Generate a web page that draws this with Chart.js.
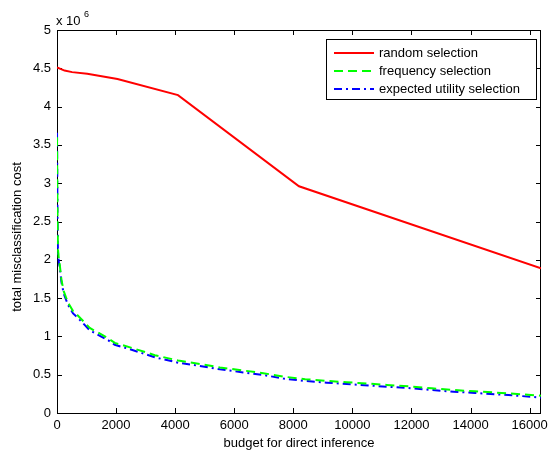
<!DOCTYPE html>
<html>
<head>
<meta charset="utf-8">
<script src="https://cdn.jsdelivr.net/npm/chart.js@4.4.0/dist/chart.umd.min.js"></script>
<style>
  html, body { margin: 0; padding: 0; background: #fff; }
</style>
</head>
<body>
<canvas id="cost-chart" width="548" height="453"></canvas>
<script>
// values are in units of 10^6 (as on the y axis)
const randomBudget = [1, 256, 512, 1024, 2048, 4096, 8192, 16384]
const randomCost = [4.51, 4.47, 4.45, 4.43, 4.36, 4.15, 2.96, 1.89]

const budget = [1, 16, 32, 64, 92, 150, 227, 373, 543, 712, 1108, 1390, 1730, 1956, 2576, 3312, 4100,
    4837, 5515, 6305, 6983, 7661, 8400, 9132, 9810, 10542, 11166, 12013, 12691, 13424, 14159, 14895, 15573, 16384]
const frequencyCost = [3.60, 2.65, 2.14, 2.0, 1.94, 1.74, 1.59, 1.44, 1.33, 1.27, 1.11, 1.05, 0.975, 0.915, 0.845, 0.755, 0.685,
    0.64, 0.595, 0.555, 0.52, 0.475, 0.442, 0.42, 0.402, 0.383, 0.366, 0.345, 0.322, 0.30, 0.283, 0.266, 0.248, 0.225]
const utilityCost = [3.66, 2.6, 2.1, 1.96, 1.91, 1.71, 1.56, 1.41, 1.30, 1.24, 1.08, 1.02, 0.95, 0.89, 0.82, 0.727, 0.657,
    0.614, 0.57, 0.53, 0.496, 0.45, 0.418, 0.396, 0.379, 0.36, 0.343, 0.322, 0.30, 0.278, 0.261, 0.244, 0.226, 0.20]

const seriesNames = ['random selection', 'frequency selection', 'expected utility selection']
const xTicks = [0, 2000, 4000, 6000, 8000, 10000, 12000, 14000, 16000]
const yTicks = [0, 0.5, 1, 1.5, 2, 2.5, 3, 3.5, 4, 4.5, 5]

const FONT = 'Liberation Sans, Arial, sans-serif'

function toPoints(xs, ys) {
    return xs.map((x, i) => ({ x: x, y: ys[i] }))
}

// box around the axes with inward ticks, like matlab
const frameTicks = {
    id: 'frameTicks',
    beforeDatasetsDraw(chart) {
        const { ctx, chartArea: a, scales } = chart
        ctx.save()
        ctx.strokeStyle = '#000'
        ctx.lineWidth = 1
        ctx.strokeRect(a.left + 0.5, a.top + 0.5, a.right - a.left - 1, a.bottom - a.top)
        ctx.beginPath()
        scales.x.ticks.forEach(t => {
            const px = Math.round(scales.x.getPixelForValue(t.value)) + 0.5
            ctx.moveTo(px, a.bottom); ctx.lineTo(px, a.bottom - 5)
            ctx.moveTo(px, a.top); ctx.lineTo(px, a.top + 5)
        })
        scales.y.ticks.forEach(t => {
            const py = Math.round(scales.y.getPixelForValue(t.value)) + 0.5
            ctx.moveTo(a.left, py); ctx.lineTo(a.left + 5, py)
            ctx.moveTo(a.right, py); ctx.lineTo(a.right - 5, py)
        })
        ctx.stroke()
        ctx.fillStyle = '#000'
        // exponent label
        ctx.textBaseline = 'alphabetic'
        ctx.font = '13px ' + FONT
        ctx.fillText('x 10', 56, 25)
        ctx.font = '9px ' + FONT
        ctx.fillText('6', 84, 17)
        // y axis label (matlab puts it a bit below the axis centre)
        ctx.save()
        ctx.translate(17, 237)
        ctx.rotate(-Math.PI / 2)
        ctx.textAlign = 'center'
        ctx.textBaseline = 'middle'
        ctx.font = '13px ' + FONT
        ctx.fillText('total misclassification cost', 0, 0)
        ctx.restore()
        ctx.restore()
    },
    afterDraw(chart) {
        const { ctx } = chart
        const x0 = 326, y0 = 39, w = 210, h = 60
        ctx.save()
        ctx.fillStyle = '#fff'
        ctx.fillRect(x0, y0, w, h)
        ctx.strokeStyle = '#000'
        ctx.lineWidth = 1
        ctx.strokeRect(x0 + 0.5, y0 + 0.5, w, h)
        const rows = [53, 71, 89]
        chart.data.datasets.forEach((ds, i) => {
            ctx.beginPath()
            ctx.strokeStyle = ds.borderColor
            ctx.lineWidth = ds.borderWidth
            ctx.setLineDash(ds.borderDash || [])
            ctx.moveTo(334, rows[i]); ctx.lineTo(374, rows[i])
            ctx.stroke()
            ctx.setLineDash([])
            ctx.fillStyle = '#000'
            ctx.font = '13px ' + FONT
            ctx.textBaseline = 'middle'
            ctx.fillText(ds.label, 379, rows[i])
        })
        ctx.restore()
    }
}

new Chart(document.querySelector('#cost-chart').getContext('2d'), {
    type: 'line',
    data: {
        datasets: [{
            label: seriesNames[0],
            data: toPoints(randomBudget, randomCost),
            borderColor: '#ff0000',
            borderWidth: 2
        }, {
            label: seriesNames[1],
            data: toPoints(budget, frequencyCost),
            borderColor: '#00ff00',
            borderWidth: 2,
            borderDash: [9, 5]
        }, {
            label: seriesNames[2],
            data: toPoints(budget, utilityCost),
            borderColor: '#0000ff',
            borderWidth: 2,
            borderDash: [8, 4, 2, 4]
        }]
    },
    options: {
        responsive: false,
        animation: false,
        devicePixelRatio: 1,
        layout: { padding: { top: 30, right: 7, left: 0, bottom: 0 } },
        elements: { point: { radius: 0 }, line: { tension: 0, fill: false } },
        plugins: { legend: { display: false }, tooltip: { enabled: false } },
        scales: {
            x: {
                type: 'linear',
                min: 0,
                max: 16384,
                afterBuildTicks: s => { s.ticks = xTicks.map(v => ({ value: v })) },
                afterFit: s => {
                    s.height = 40
                    s.paddingLeft = 0
                    s.paddingRight = 0
                },
                grid: { display: false, drawTicks: false },
                border: { display: false },
                ticks: {
                    autoSkip: false,
                    maxRotation: 0,
                    padding: 5,
                    color: '#000',
                    font: { family: FONT, size: 13 },
                    callback: v => String(v)
                },
                title: {
                    display: true,
                    text: 'budget for direct inference',
                    color: '#000',
                    font: { family: FONT, size: 13 },
                    padding: { top: 0, bottom: 2 }
                }
            },
            y: {
                min: 0,
                max: 5,
                afterBuildTicks: s => { s.ticks = yTicks.map(v => ({ value: v })) },
                afterFit: s => {
                    s.width = 57
                    s.paddingTop = 0
                    s.paddingBottom = 0
                },
                grid: { display: false, drawTicks: false },
                border: { display: false },
                ticks: {
                    padding: 6,
                    color: '#000',
                    font: { family: FONT, size: 13 },
                    callback: v => String(v)
                }
            }
        }
    },
    plugins: [frameTicks]
})
</script>
</body>
</html>
